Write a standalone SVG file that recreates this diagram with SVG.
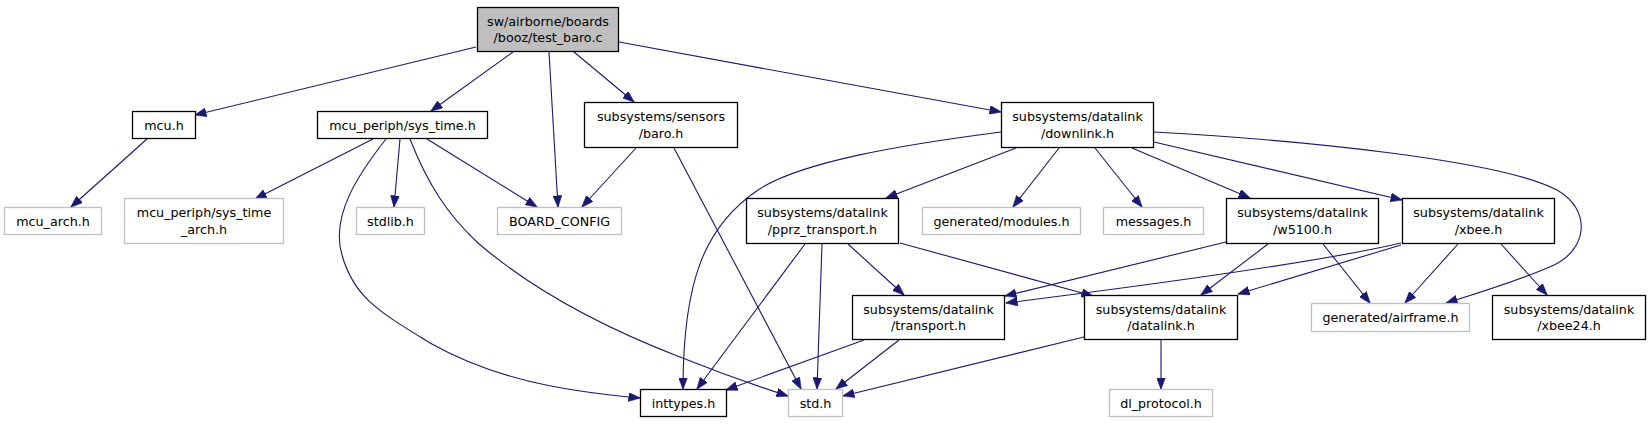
<svg xmlns="http://www.w3.org/2000/svg" width="1651" height="424" viewBox="0 0 1651 424">
<defs>
<marker id="ah" viewBox="0 0 12 9" refX="11.5" refY="4.5" markerWidth="12" markerHeight="9" markerUnits="userSpaceOnUse" orient="auto">
<path d="M0,0 L12,4.5 L0,9 z" fill="#191970" stroke="#191970" stroke-width="0.5"/>
</marker>
<style>
.n rect{fill:#fff;stroke:#000;stroke-width:1.3}
.g rect{fill:#fff;stroke:#bfbfbf;stroke-width:1.3}
.root rect{fill:#bfbfbf;stroke:#000;stroke-width:1.3}
text{font-family:"DejaVu Sans",sans-serif;font-size:12.7px;fill:#000;text-anchor:middle}
#edges path{fill:none;stroke:#191970;stroke-width:1.1;marker-end:url(#ah)}
</style>
</defs>
<rect width="1651" height="424" fill="#fff"/>
<g id="edges">
<path d="M476,47 L195,115"/>
<path d="M513,52 L431,111"/>
<path d="M549,52 L558,207"/>
<path d="M574,52 L634,102"/>
<path d="M619,42 L1001,112"/>
<path d="M147,139 L71,207"/>
<path d="M373,139 L255,199"/>
<path d="M386,139 C360,172 330,215 342,255 C354,298 380,312 430,343 C492,378 560,391 640,398"/>
<path d="M400,139 L394,207"/>
<path d="M410,139 C428,185 448,215 478,243 C535,292 610,330 680,357 C725,375 760,387 788,396"/>
<path d="M427,139 L537,207"/>
<path d="M636,148 L582,207"/>
<path d="M674,148 L801,389"/>
<path d="M1001,132 C900,145 800,162 758,190 C705,226 683,280 683,389"/>
<path d="M1016,148 L886,198"/>
<path d="M1059,148 L1013,207"/>
<path d="M1095,148 L1142,207"/>
<path d="M1132,148 L1250,198"/>
<path d="M1154,142 L1402,200"/>
<path d="M1154,132 C1300,140 1500,160 1557,190 C1592,210 1588,250 1552,266 C1515,282 1475,294 1446,303"/>
<path d="M805,244 L697,389"/>
<path d="M822,244 L817,389"/>
<path d="M848,244 L904,295"/>
<path d="M900,243 L1093,296"/>
<path d="M1226,242 L1005,296"/>
<path d="M1268,244 L1201,295"/>
<path d="M1323,244 L1370,303"/>
<path d="M1401,243 C1320,262 1150,285 1006,303"/>
<path d="M1401,245 L1238,294"/>
<path d="M1458,244 L1405,303"/>
<path d="M1501,244 L1547,295"/>
<path d="M864,340 L726,390"/>
<path d="M899,340 L836,389"/>
<path d="M1084,337 L843,396"/>
<path d="M1161,340 L1161,389"/>
</g>
<g id="root" class="root"><rect x="477.5" y="7.5" width="141" height="44"/><text x="548" y="25.5">sw/airborne/boards</text><text x="548" y="42">/booz/test_baro.c</text></g>
<g id="mcu_h" class="n"><rect x="132.5" y="111.5" width="63" height="27"/><text x="164" y="129.5">mcu.h</text></g>
<g id="sys_time_h" class="n"><rect x="317.5" y="111.5" width="170" height="27"/><text x="402.5" y="129.5">mcu_periph/sys_time.h</text></g>
<g id="baro_h" class="n"><rect x="584.5" y="102.5" width="153" height="45"/><text x="661" y="121">subsystems/sensors</text><text x="661" y="137.5">/baro.h</text></g>
<g id="downlink_h" class="n"><rect x="1001.5" y="102.5" width="152" height="45"/><text x="1077.5" y="121">subsystems/datalink</text><text x="1077.5" y="137.5">/downlink.h</text></g>
<g id="mcu_arch_h" class="g"><rect x="4.5" y="207.5" width="97" height="27"/><text x="53" y="225.5">mcu_arch.h</text></g>
<g id="sys_time_arch_h" class="g"><rect x="124.5" y="198.5" width="159" height="45"/><text x="204" y="217">mcu_periph/sys_time</text><text x="204" y="233.5">_arch.h</text></g>
<g id="stdlib_h" class="g"><rect x="356.5" y="207.5" width="68" height="27"/><text x="390.5" y="225.5">stdlib.h</text></g>
<g id="board_config" class="g"><rect x="497.5" y="207.5" width="124" height="27"/><text x="559.5" y="225.5">BOARD_CONFIG</text></g>
<g id="pprz_transport_h" class="n"><rect x="746.5" y="198.5" width="152" height="45"/><text x="822.5" y="217">subsystems/datalink</text><text x="822.5" y="233.5">/pprz_transport.h</text></g>
<g id="modules_h" class="g"><rect x="922.5" y="207.5" width="158" height="27"/><text x="1001.5" y="225.5">generated/modules.h</text></g>
<g id="messages_h" class="g"><rect x="1103.5" y="207.5" width="100" height="27"/><text x="1153.5" y="225.5">messages.h</text></g>
<g id="w5100_h" class="n"><rect x="1226.5" y="198.5" width="152" height="45"/><text x="1302.5" y="217">subsystems/datalink</text><text x="1302.5" y="233.5">/w5100.h</text></g>
<g id="xbee_h" class="n"><rect x="1402.5" y="198.5" width="152" height="45"/><text x="1478.5" y="217">subsystems/datalink</text><text x="1478.5" y="233.5">/xbee.h</text></g>
<g id="transport_h" class="n"><rect x="852.5" y="295.5" width="152" height="44"/><text x="928.5" y="313.5">subsystems/datalink</text><text x="928.5" y="330">/transport.h</text></g>
<g id="datalink_h" class="n"><rect x="1084.5" y="295.5" width="153" height="44"/><text x="1161" y="313.5">subsystems/datalink</text><text x="1161" y="330">/datalink.h</text></g>
<g id="airframe_h" class="g"><rect x="1311.5" y="303.5" width="158" height="28"/><text x="1390.5" y="322">generated/airframe.h</text></g>
<g id="xbee24_h" class="n"><rect x="1492.5" y="295.5" width="153" height="44"/><text x="1569" y="313.5">subsystems/datalink</text><text x="1569" y="330">/xbee24.h</text></g>
<g id="inttypes_h" class="n"><rect x="640.5" y="389.5" width="86" height="27"/><text x="683.5" y="407.5">inttypes.h</text></g>
<g id="std_h" class="g"><rect x="788.5" y="389.5" width="54" height="27"/><text x="815.5" y="407.5">std.h</text></g>
<g id="dl_protocol_h" class="g"><rect x="1109.5" y="389.5" width="103" height="27"/><text x="1161" y="407.5">dl_protocol.h</text></g>
</svg>
